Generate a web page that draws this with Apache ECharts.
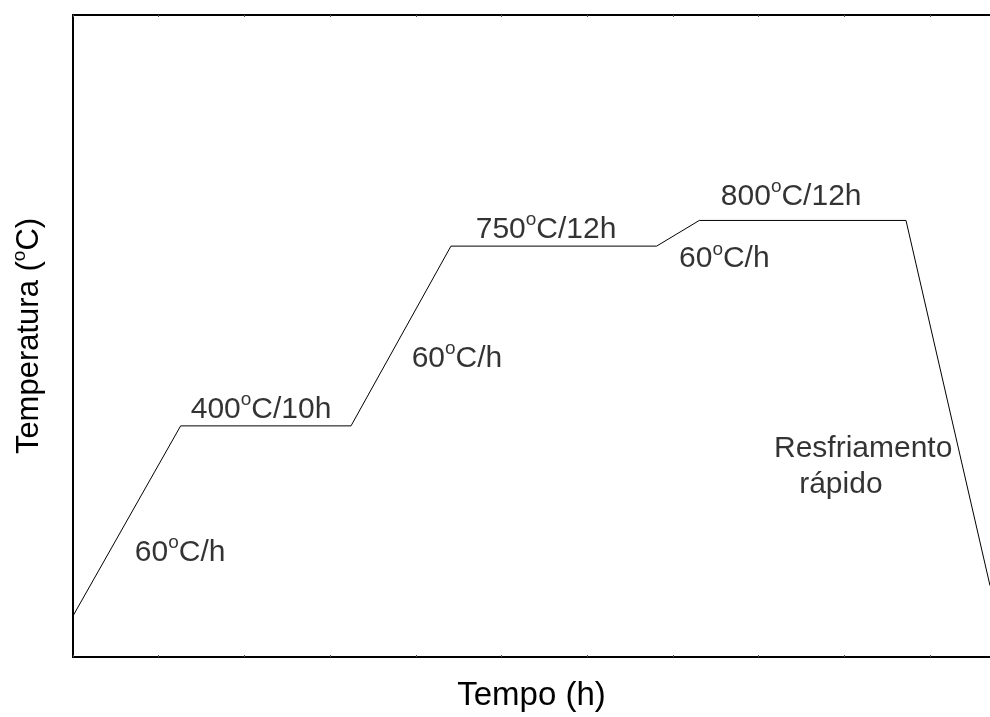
<!DOCTYPE html>
<html>
<head>
<meta charset="utf-8">
<script src="https://cdn.jsdelivr.net/npm/echarts@6/dist/echarts.min.js"></script>
<style>html,body{margin:0;padding:0;background:#fff;}#c{width:990px;height:717px;}</style>
</head>
<body>
<div id="c"></div>
<script>
// Heat treatment profile: time (h) vs temperature (°C)
var timeH = [0, 6.28, 16.22, 22.05, 34.05, 36.54, 48.6, 53.5];
var tempC = [30, 400, 400, 750, 750, 800, 800, 89];

// Annotations: label text parts [before superscript, after superscript], position in data units
var annText = [["60", "C/h"], ["400", "C/10h"], ["60", "C/h"], ["750", "C/12h"], ["800", "C/12h"], ["60", "C/h"]];
var annX = [6.25, 10.97, 22.4, 27.6, 41.9, 38.0];
var annY = [157, 436, 535, 786, 850, 729];
var noteText = ["Resfriamento", "rápido"];
var noteX = [46.1, 44.8];
var noteY = [355, 285];

var xTitle = "Tempo (h)";
var yTitleParts = ["Temperatura (", "C)"];

var FONT = '"Liberation Sans", Arial, sans-serif';

var chart = echarts.init(document.getElementById('c'), null, {renderer: 'canvas'});

var supRich = {
  n: {fontSize: 30, fontFamily: FONT, color: '#000', lineHeight: 34, verticalAlign: 'bottom'},
  s: {fontSize: 19, fontFamily: FONT, color: '#000', lineHeight: 34, verticalAlign: 'top', padding: [0, 0, 13, 0]}
};

var annData = annText.map(function (t, i) { return {value: [annX[i], annY[i]], parts: t}; });
var noteData = noteText.map(function (t, i) { return {value: [noteX[i], noteY[i]], txt: t}; });

var axisLineStyle = {color: '#000', width: 2};

chart.setOption({
  backgroundColor: '#fff',
  animation: false,
  grid: {left: 73, top: 15, right: 0, bottom: 58},
  xAxis: [{
    type: 'value', min: 0, max: 53.5, interval: 5, position: 'bottom',
    axisLine: {show: true, onZero: false, lineStyle: axisLineStyle},
    axisTick: {show: true, inside: true, length: 2, lineStyle: {color: '#555', width: 1}},
    axisLabel: {show: false}, splitLine: {show: false},
    name: xTitle, nameLocation: 'middle', nameGap: 22,
    nameTextStyle: {fontSize: 33, fontFamily: FONT, color: '#000'}
  }, {
    type: 'value', min: 0, max: 53.5, interval: 5, position: 'top',
    axisLine: {show: true, onZero: false, lineStyle: axisLineStyle},
    axisTick: {show: true, inside: true, length: 2, lineStyle: {color: '#555', width: 1}},
    axisLabel: {show: false}, splitLine: {show: false}
  }],
  yAxis: {
    type: 'value', min: -50, max: 1200, interval: 50,
    axisLine: {show: true, onZero: false, lineStyle: axisLineStyle},
    axisTick: {show: false}, axisLabel: {show: false}, splitLine: {show: false},
    name: '{n|' + yTitleParts[0] + '}{s|o}{n|' + yTitleParts[1] + '}',
    nameLocation: 'middle', nameGap: 28, nameRotate: 90,
    nameTextStyle: {rich: {
      n: {fontSize: 31, fontFamily: FONT, color: '#000', lineHeight: 35, verticalAlign: 'bottom'},
      s: {fontSize: 19, fontFamily: FONT, color: '#000', lineHeight: 35, verticalAlign: 'top', padding: [0, 0, 13, 0]}
    }}
  },
  series: [{
    type: 'line', xAxisIndex: 0, yAxisIndex: 0,
    data: timeH.map(function (t, i) { return [t, tempC[i]]; }),
    showSymbol: false, symbol: 'none', clip: true,
    lineStyle: {color: '#000', width: 1}
  }, {
    type: 'scatter', symbolSize: 0, silent: true,
    data: annData,
    label: {
      show: true, position: 'inside', color: '#000', textBorderWidth: 0,
      formatter: function (p) { return '{n|' + p.data.parts[0] + '}{s|o}{n|' + p.data.parts[1] + '}'; },
      rich: supRich
    }
  }, {
    type: 'scatter', symbolSize: 0, silent: true,
    data: noteData,
    label: {
      show: true, position: 'inside', textBorderWidth: 0,
      formatter: function (p) { return p.data.txt; },
      fontSize: 30, fontFamily: FONT, color: '#000'
    }
  }]
});
</script>
</body>
</html>
